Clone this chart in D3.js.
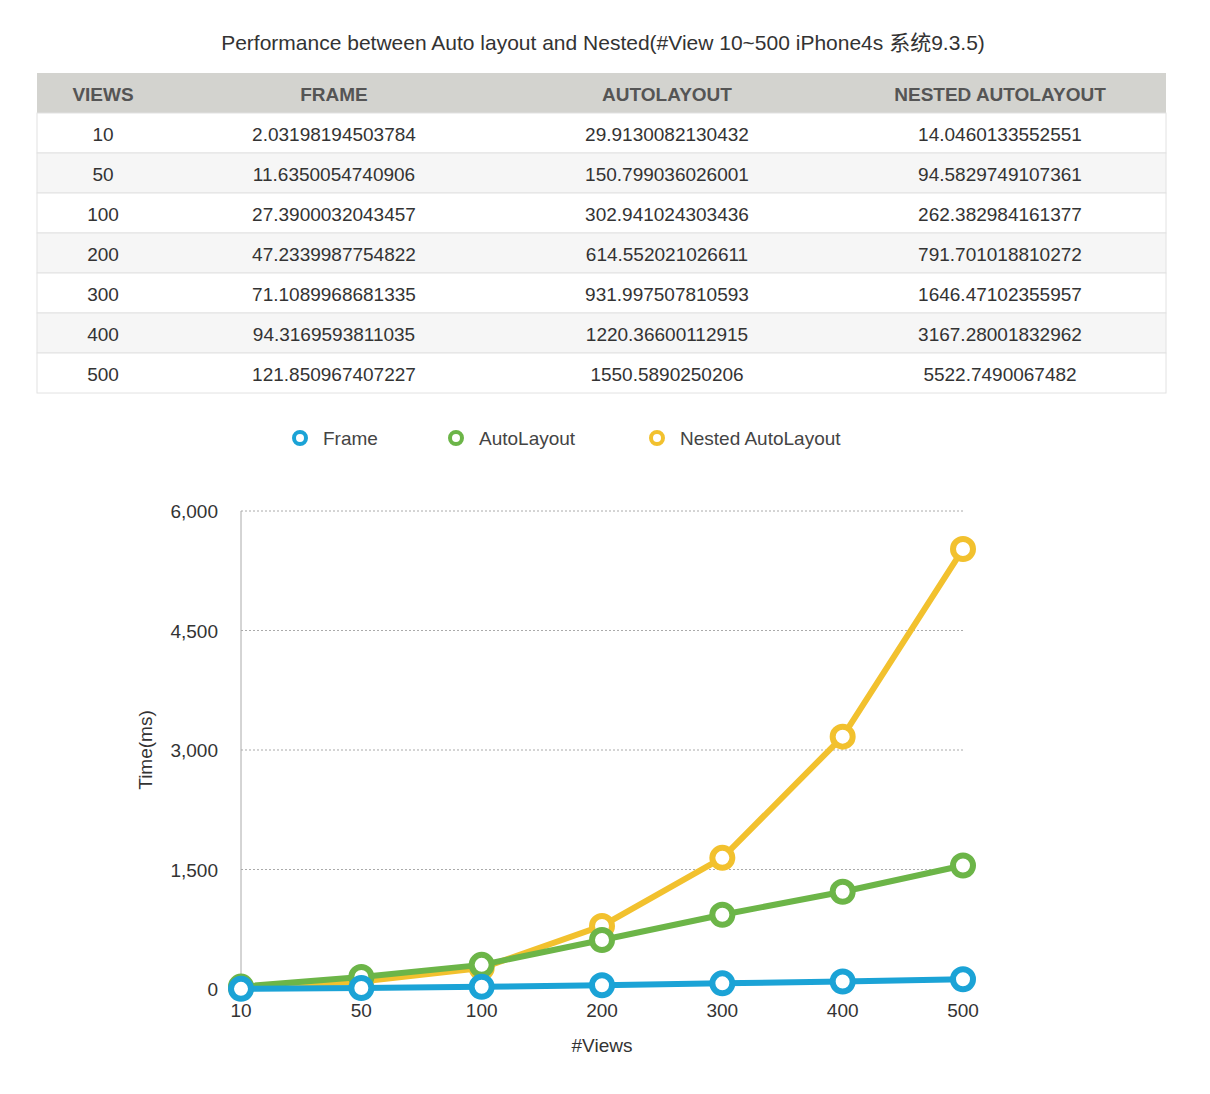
<!DOCTYPE html>
<meta charset="utf-8">
<style>
body{margin:0;background:#fff;font-family:"Helvetica Neue",Helvetica,"Liberation Sans",Arial,"Noto Sans CJK SC",sans-serif;}
svg{display:block}
</style>
<svg id="chart" width="1210" height="1094"></svg>
<script src="https://d3js.org/d3.v7.min.js"></script>
<script>
const views = [10, 50, 100, 200, 300, 400, 500]
const frame = ["2.03198194503784","11.6350054740906","27.3900032043457","47.2339987754822","71.1089968681335","94.3169593811035","121.850967407227"]
const autoLayout = ["29.9130082130432","150.799036026001","302.941024303436","614.552021026611","931.997507810593","1220.36600112915","1550.5890250206"]
const nested = ["14.0460133552551","94.5829749107361","262.382984161377","791.701018810272","1646.47102355957","3167.28001832962","5522.7490067482"]
const headers = ["VIEWS", "FRAME", "AUTOLAYOUT", "NESTED AUTOLAYOUT"]
const seriesNames = ["Frame", "AutoLayout", "Nested AutoLayout"]
const colors = ["#1ba3d6", "#6cb548", "#f2c12e"]
const yTicks = [0, 1500, 3000, 4500, 6000]

const svg = d3.select('#chart')
const txt = '#333'

svg.append('text').attr('x', 603).attr('y', 50).attr('text-anchor', 'middle')
  .style('font-size', '21px').style('fill', txt)
  .text('Performance between Auto layout and Nested(#View 10~500 iPhone4s 系统9.3.5)')

// table
const colX = [103, 334, 667, 1000]
const rowH = 40, tableTop = 73, tL = 37, tR = 1166
svg.append('rect').attr('x', tL).attr('y', tableTop).attr('width', tR - tL).attr('height', rowH).attr('fill', '#d3d3cf')
svg.selectAll('text.h').data(headers).enter().append('text').attr('class', 'h')
  .attr('x', (d, i) => colX[i]).attr('y', tableTop + 28).attr('text-anchor', 'middle')
  .style('font-size', '19px').style('font-weight', 'bold').style('fill', '#555').text(d => d)
const rows = views.map((v, i) => [String(v), frame[i], autoLayout[i], nested[i]])
const rowG = svg.selectAll('g.row').data(rows).enter().append('g').attr('class', 'row')
  .attr('transform', (d, i) => `translate(0,${tableTop + rowH * (i + 1)})`)
rowG.append('rect').attr('x', tL).attr('width', tR - tL).attr('height', rowH)
  .attr('fill', (d, i) => i % 2 ? '#f6f6f6' : '#fff').attr('stroke', '#e2e2e2')
rowG.selectAll('text').data(r => r).enter().append('text')
  .attr('x', (d, i) => colX[i]).attr('y', 28).attr('text-anchor', 'middle')
  .style('font-size', '19px').style('fill', txt).text(d => d)

// legend
const legX = [300, 456, 657]
const leg = svg.selectAll('g.leg').data(seriesNames).enter().append('g').attr('class', 'leg')
  .attr('transform', (d, i) => `translate(${legX[i]},438)`)
leg.append('circle').attr('r', 6).attr('fill', '#fff').attr('stroke', (d, i) => colors[i]).attr('stroke-width', 4)
leg.append('text').attr('x', 23).attr('y', 7).style('font-size', '19px').style('fill', '#444').text(d => d)

// chart
const x = d3.scalePoint().domain(views).range([241, 963])
const y = d3.scaleLinear().domain([0, 6000]).range([989, 511])
svg.append('g').selectAll('line').data(yTicks.slice(1)).enter().append('line')
  .attr('x1', 241).attr('x2', 963).attr('y1', d => y(d)).attr('y2', d => y(d))
  .attr('stroke', '#aaa').attr('stroke-dasharray', '2,2')
svg.append('line').attr('x1', 241).attr('x2', 241).attr('y1', y(6000)).attr('y2', y(0)).attr('stroke', '#aaa')
svg.append('g').selectAll('text').data(yTicks).enter().append('text')
  .attr('x', 218).attr('y', d => y(d) + 7).attr('text-anchor', 'end')
  .style('font-size', '19px').style('fill', txt).text(d3.format(','))
svg.append('g').selectAll('text').data(views).enter().append('text')
  .attr('x', d => x(d)).attr('y', 1017).attr('text-anchor', 'middle')
  .style('font-size', '19px').style('fill', txt).text(d => d)
svg.append('text').attr('x', 602).attr('y', 1052).attr('text-anchor', 'middle')
  .style('font-size', '19px').style('fill', txt).text('#Views')
svg.append('text').attr('transform', 'translate(152,750) rotate(-90)').attr('text-anchor', 'middle')
  .style('font-size', '19px').style('fill', txt).text('Time(ms)')

const series = [nested, autoLayout, frame]
const sColors = [colors[2], colors[1], colors[0]]
const line = d3.line().x((d, i) => x(views[i])).y(d => y(+d))
series.forEach((s, k) => {
  const g = svg.append('g')
  g.append('path').datum(s).attr('d', line).attr('fill', 'none')
    .attr('stroke', sColors[k]).attr('stroke-width', 6).attr('stroke-linejoin', 'round')
  g.selectAll('circle').data(s).enter().append('circle')
    .attr('cx', (d, i) => x(views[i])).attr('cy', d => y(+d)).attr('r', 10)
    .attr('fill', '#fff').attr('stroke', sColors[k]).attr('stroke-width', 6)
})
</script>
